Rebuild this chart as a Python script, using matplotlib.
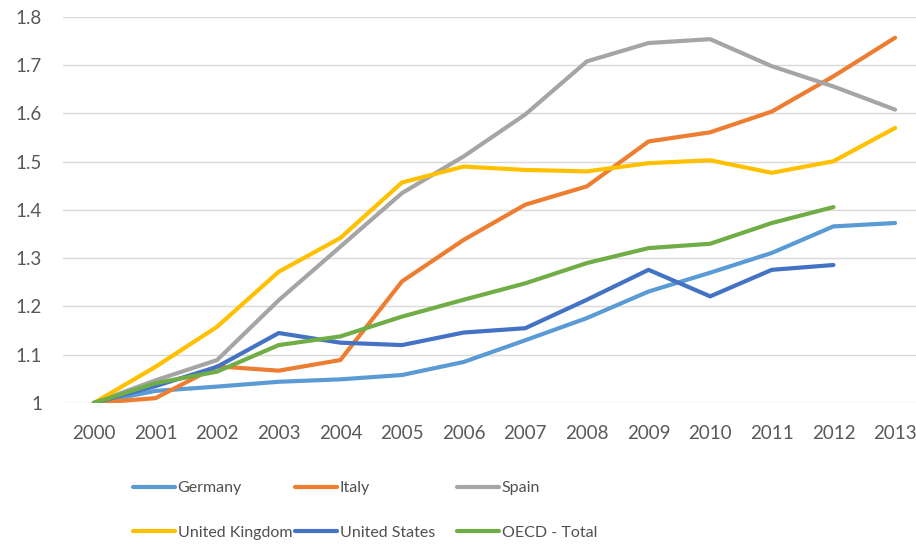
import numpy as np
import matplotlib
matplotlib.use("Agg")
from matplotlib import pyplot as plt

plt.rcParams['font.family'] = ['Lato', 'DejaVu Sans']

years = [str(y) for y in range(2000, 2014)]

germany = [1.0, 1.025, 1.034, 1.044, 1.049, 1.058, 1.085, 1.13, 1.176, 1.231, 1.27, 1.311, 1.366, 1.373]
italy = [1.0, 1.01, 1.076, 1.067, 1.089, 1.252, 1.338, 1.411, 1.449, 1.542, 1.561, 1.604, 1.677, 1.757]
spain = [1.0, 1.047, 1.089, 1.213, 1.324, 1.435, 1.511, 1.598, 1.708, 1.746, 1.754, 1.698, 1.656, 1.608]
uk = [1.0, 1.075, 1.158, 1.272, 1.342, 1.457, 1.49, 1.483, 1.48, 1.497, 1.503, 1.477, 1.501, 1.57]
us = [1.0, 1.035, 1.075, 1.145, 1.125, 1.12, 1.146, 1.155, 1.214, 1.276, 1.221, 1.276, 1.286, np.nan]
oecd = [1.0, 1.041, 1.065, 1.12, 1.138, 1.179, 1.214, 1.248, 1.29, 1.321, 1.33, 1.373, 1.406, np.nan]

series = [
    ("Germany", germany, "#5B9BD5"),
    ("Italy", italy, "#ED7D31"),
    ("Spain", spain, "#A5A5A5"),
    ("United Kingdom", uk, "#FFC000"),
    ("United States", us, "#4472C4"),
    ("OECD - Total", oecd, "#70AD47"),
]

fig = plt.figure(figsize=(9.16, 5.44), dpi=100)
ax = fig.add_axes([0.0688, 0.2592, 0.942, 0.7096])

x = np.arange(len(years))
lines = []
for name, vals, col in series:
    ln, = ax.plot(x, vals, color=col, lw=3, label=name,
                  solid_capstyle='round', solid_joinstyle='round')
    lines.append(ln)

ax.set_xlim(-0.5, len(years) - 0.5)
ax.set_ylim(1.0, 1.8)
ax.set_yticks([1.0, 1.1, 1.2, 1.3, 1.4, 1.5, 1.6, 1.7, 1.8])
ax.set_yticklabels(["1", "1.1", "1.2", "1.3", "1.4", "1.5", "1.6", "1.7", "1.8"])
ax.set_xticks(x)
ax.set_xticklabels(years)
ax.tick_params(axis='both', length=0, labelsize=13.5, colors="#595959")
ax.tick_params(axis='x', pad=16)
ax.tick_params(axis='y', pad=15)
ax.grid(axis='y', color="#D9D9D9", lw=1)
ax.set_axisbelow(True)
for s in ax.spines.values():
    s.set_visible(False)

# legend: three columns, two rows, laid out like the Excel one
col_x = [133, 295, 457]
for i, cx in enumerate(col_x):
    hs = [lines[i], lines[i + 3]]
    leg = fig.legend(hs, [h.get_label() for h in hs], loc='upper left',
                     bbox_to_anchor=(cx / 916, 1 - 481 / 544),
                     frameon=False, fontsize=11.5, handlelength=2.6, handletextpad=0.2,
                     labelspacing=1.9, borderpad=0, borderaxespad=0)
    for t in leg.get_texts():
        t.set_color("#505050")

fig.savefig("out.png", dpi=100, facecolor="white")
